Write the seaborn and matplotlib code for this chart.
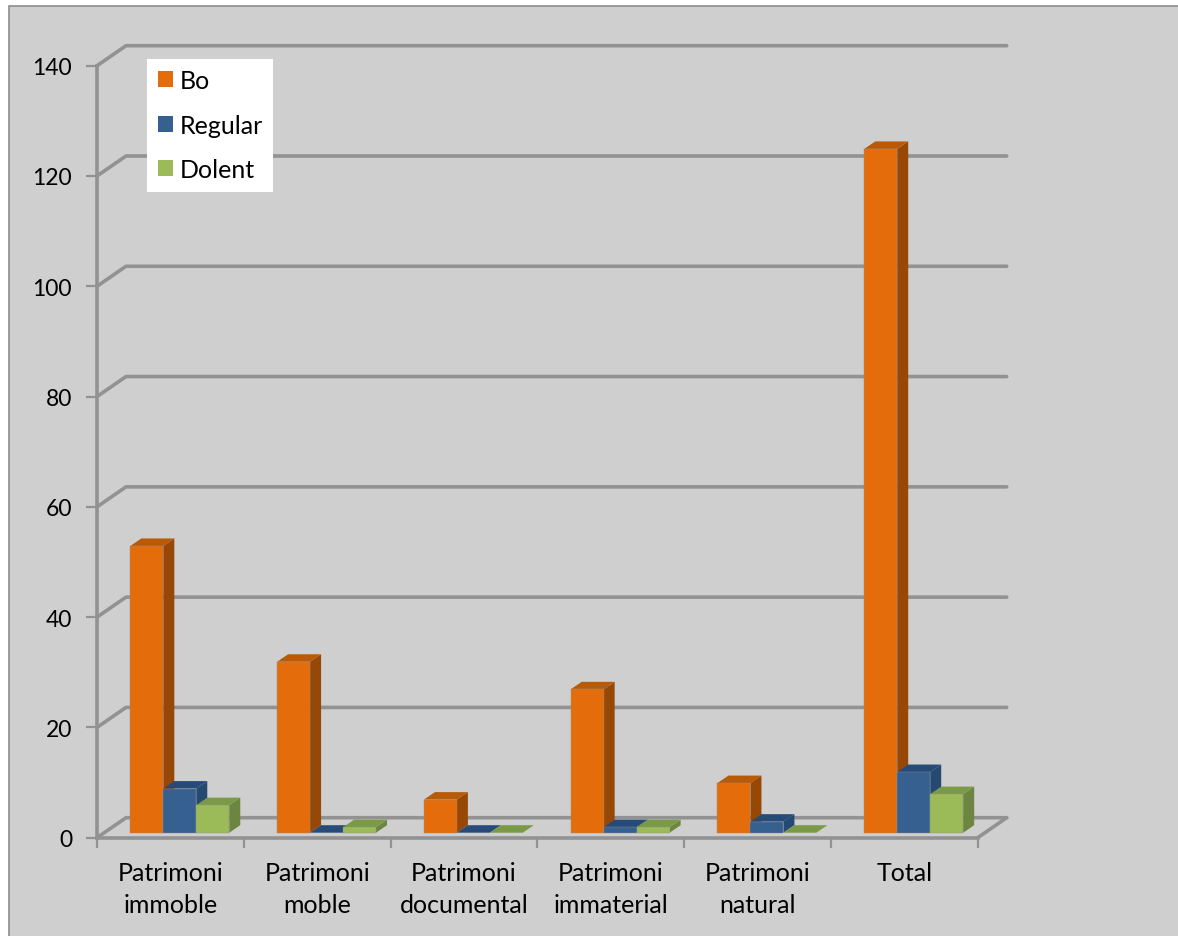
import numpy as np
import pandas as pd
import seaborn as sns
import matplotlib.pyplot as plt
from matplotlib.patches import Polygon, Rectangle
from matplotlib.transforms import Affine2D, IdentityTransform

categories = ['Patrimoni\nimmoble', 'Patrimoni\nmoble', 'Patrimoni\ndocumental',
              'Patrimoni\nimmaterial', 'Patrimoni\nnatural', 'Total']
bo = [52, 31, 6, 26, 9, 124]
regular = [8, 0, 0, 1, 2, 11]
dolent = [5, 1, 0, 1, 0, 7]
series_names = ['Bo', 'Regular', 'Dolent']
y_ticks = [0, 20, 40, 60, 80, 100, 120, 140]

front_colors = ['#E46C0A', '#35608F', '#9BBB59']
side_colors = ['#974706', '#254A72', '#6C8540']
top_colors = ['#B85A08', '#274B78', '#7A9A48']
grid_color = '#929292'
bg_color = '#CFCFCF'

# offsets in pixels for the fake 3d look
wall_dx, wall_dy = 29, 20
bar_dx, bar_dy = 9.4, 5
depth_dx, depth_dy = 11, 7.5

df = pd.DataFrame({'category': categories * 3,
                   'value': bo + regular + dolent,
                   'serie': np.repeat(series_names, len(categories))})

sns.set_style("white")
plt.rcParams['font.family'] = ['Lato', 'DejaVu Sans']
plt.rcParams['text.color'] = 'black'

W, H = 1178, 937
fig = plt.figure(figsize=(W / 100, H / 100), dpi=100, facecolor='white')
fig.add_artist(Rectangle((9 / W, -0.01), 1, 1.01 - 7 / H, transform=fig.transFigure,
                         facecolor=bg_color, edgecolor='#8C8C8C', linewidth=1.2, zorder=-1))

ax = fig.add_axes([97 / W, (H - 838.7) / H, 880.7 / W, 772 / H])
ax.patch.set_alpha(0)

sns.barplot(data=df, x='category', y='value', hue='serie', hue_order=series_names,
            palette=front_colors, width=0.674, gap=0, ax=ax, errorbar=None,
            saturation=1, edgecolor='#8F8F8F', linewidth=0.3, zorder=10)

ax.set_xlim(-0.5, 5.5)
ax.set_ylim(0, 140)
ax.set_xlabel('')
ax.set_ylabel('')
ax.set_yticks(y_ticks)
ax.set_xticks(np.arange(-0.5, 6), minor=True)
ax.tick_params(axis='y', length=8, width=1.6, color=grid_color, labelsize=16.5,
               labelcolor='black', pad=10, left=True)
ax.tick_params(axis='x', which='major', length=0, labelsize=18, labelcolor='black', pad=17)
ax.tick_params(axis='x', which='minor', length=7, width=1.6, color=grid_color, bottom=True)
for lab in ax.get_xticklabels():
    lab.set_linespacing(1.45)

for side in ['top', 'right']:
    ax.spines[side].set_visible(False)
for side in ['left', 'bottom']:
    ax.spines[side].set_color(grid_color)
    ax.spines[side].set_linewidth(2.6)

px = IdentityTransform()

# back wall gridlines and the diagonals joining them to the front axis
for v in y_ticks:
    x0, y0 = ax.transData.transform((-0.5, v))
    x1, _ = ax.transData.transform((5.5, v))
    ax.plot([x0, x0 + wall_dx, x1 + wall_dx], [y0, y0 + wall_dy, y0 + wall_dy],
            transform=px, color=grid_color, lw=2.6, clip_on=False, zorder=1)
x1, y1 = ax.transData.transform((5.5, 0))
ax.plot([x1, x1 + wall_dx], [y1, y1 + wall_dy], transform=px, color=grid_color,
        lw=2.6, clip_on=False, zorder=1)

# bars: move the seaborn fronts onto the floor, add top and side faces
shift = Affine2D().translate(bar_dx, bar_dy)
for s, container in enumerate(ax.containers):
    for bar in container:
        idx = round(bar.get_x() + bar.get_width() / 2 + 0.2)
        z = 10 + idx * 10 + s * 3
        bar.set_transform(ax.transData + shift)
        bar.set_zorder(z + 2)
        bar.set_clip_on(False)
        a, b = bar.get_x(), bar.get_x() + bar.get_width()
        top = bar.get_height()
        xa, y0 = (ax.transData + shift).transform((a, 0))
        xb, yt = (ax.transData + shift).transform((b, top))
        ax.add_patch(Polygon([(xb, y0), (xb + depth_dx, y0 + depth_dy),
                              (xb + depth_dx, yt + depth_dy), (xb, yt)],
                             transform=px, facecolor=side_colors[s], edgecolor='none',
                             clip_on=False, zorder=z))
        ax.add_patch(Polygon([(xa, yt), (xa + depth_dx, yt + depth_dy),
                              (xb + depth_dx, yt + depth_dy), (xb, yt)],
                             transform=px, facecolor=top_colors[s], edgecolor='none',
                             clip_on=False, zorder=z + 1))
        if top == 0:
            bar.set_visible(False)

sns.move_legend(ax, 'upper left', bbox_to_anchor=(147 / W, 1 - 59.5 / H),
                bbox_transform=fig.transFigure, title=None, frameon=True,
                fancybox=False, framealpha=1, facecolor='white', edgecolor='none',
                fontsize=18, handlelength=0.6, handleheight=0.6, handletextpad=0.28,
                labelspacing=0.86, borderpad=0.42, borderaxespad=0)
leg = ax.get_legend()
leg.set_zorder(200)
for h in leg.get_patches():
    h.set_edgecolor('none')

fig.savefig('out.png', dpi=100)
